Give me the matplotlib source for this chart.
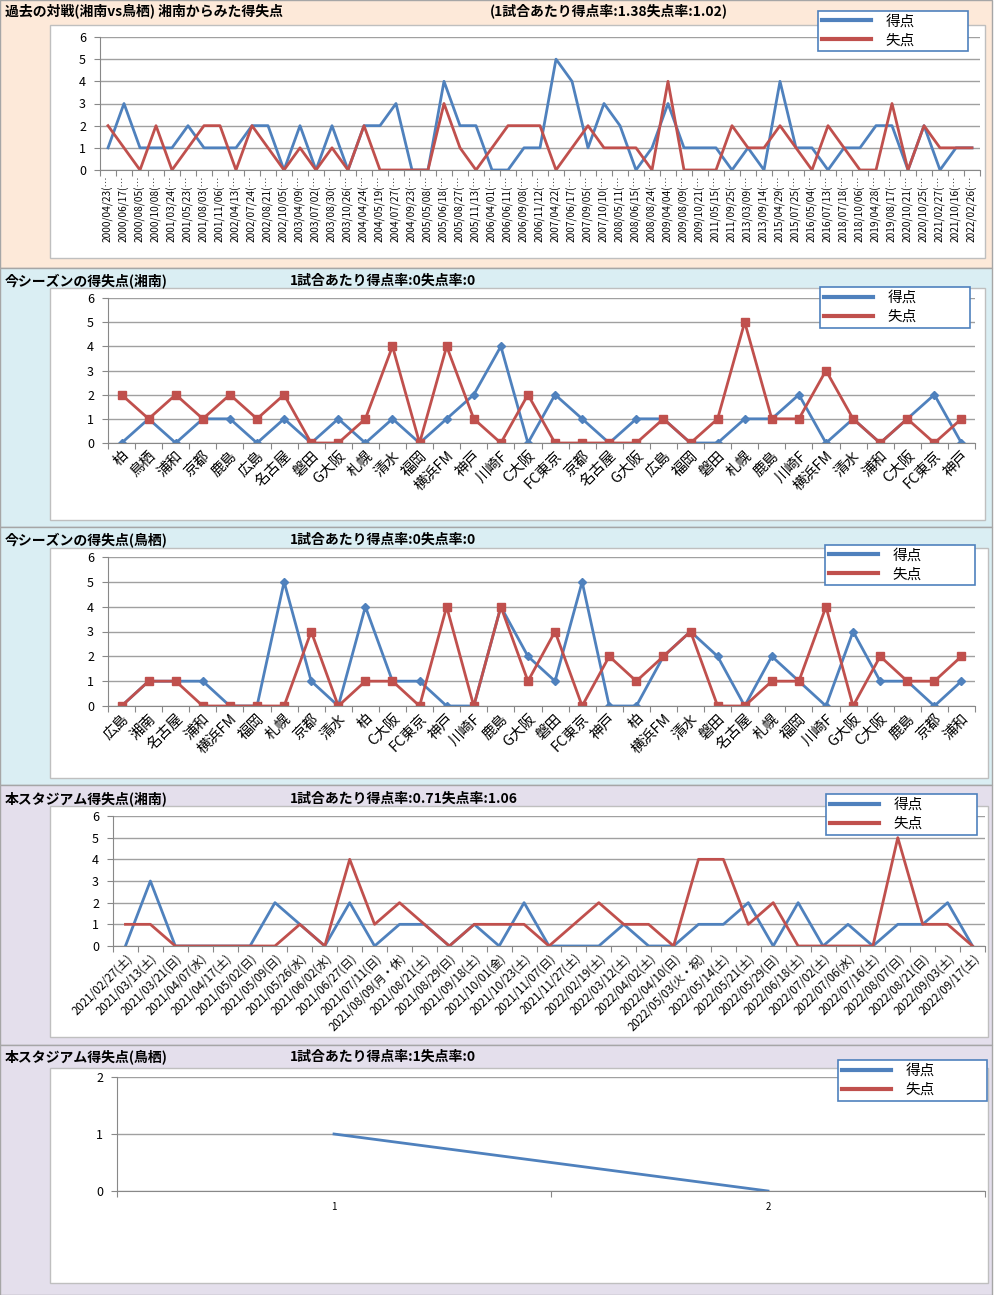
import matplotlib
matplotlib.use("Agg")
import matplotlib.pyplot as plt
from matplotlib.patches import Rectangle
from matplotlib.lines import Line2D

plt.rcParams['font.family'] = ['Noto Sans CJK JP', 'DejaVu Sans']

W, H = 1000, 1295
BLUE = '#4F81BD'
RED = '#C0504D'

# ---------------- data ----------------
h2h_dates = ["2000/04/23", "2000/06/17", "2000/08/05", "2000/10/08", "2001/03/24", "2001/05/23",
             "2001/08/03", "2001/11/06", "2002/04/13", "2002/07/24", "2002/08/21", "2002/10/05",
             "2003/04/09", "2003/07/02", "2003/08/30", "2003/10/26", "2004/04/24", "2004/05/19",
             "2004/07/27", "2004/09/23", "2005/05/08", "2005/06/18", "2005/08/27", "2005/11/13",
             "2006/04/01", "2006/06/11", "2006/09/08", "2006/11/12", "2007/04/22", "2007/06/17",
             "2007/09/05", "2007/10/10", "2008/05/11", "2008/06/15", "2008/08/24", "2009/04/04",
             "2009/08/09", "2009/10/21", "2011/05/15", "2011/09/25", "2013/03/09", "2013/09/14",
             "2015/04/29", "2015/07/25", "2016/05/04", "2016/07/13", "2018/07/18", "2018/10/06",
             "2019/04/28", "2019/08/17", "2020/10/21", "2020/10/25", "2021/02/27", "2021/10/16",
             "2022/02/26"]
h2h_for = [1, 3, 1, 1, 1, 2, 1, 1, 1, 2, 2, 0, 2, 0, 2, 0, 2, 2, 3, 0, 0, 4, 2, 2, 0, 0, 1, 1,
           5, 4, 1, 3, 2, 0, 1, 3, 1, 1, 1, 0, 1, 0, 4, 1, 1, 0, 1, 1, 2, 2, 0, 2, 0, 1, 1]
h2h_against = [2, 1, 0, 2, 0, 1, 2, 2, 0, 2, 1, 0, 1, 0, 1, 0, 2, 0, 0, 0, 0, 3, 1, 0, 1, 2, 2, 2,
               0, 1, 2, 1, 1, 1, 0, 4, 0, 0, 0, 2, 1, 1, 2, 1, 0, 2, 1, 0, 0, 3, 0, 2, 1, 1, 1]

shonan_opp = ["柏", "鳥栖", "浦和", "京都", "鹿島", "広島", "名古屋", "磐田", "G大阪", "札幌", "清水",
              "福岡", "横浜FM", "神戸", "川崎F", "C大阪", "FC東京", "京都", "名古屋", "G大阪", "広島",
              "福岡", "磐田", "札幌", "鹿島", "川崎F", "横浜FM", "清水", "浦和", "C大阪", "FC東京", "神戸"]
shonan_for = [0, 1, 0, 1, 1, 0, 1, 0, 1, 0, 1, 0, 1, 2, 4, 0, 2, 1, 0, 1, 1, 0, 0, 1, 1, 2, 0, 1,
              0, 1, 2, 0]
shonan_against = [2, 1, 2, 1, 2, 1, 2, 0, 0, 1, 4, 0, 4, 1, 0, 2, 0, 0, 0, 0, 1, 0, 1, 5, 1, 1, 3,
                  1, 0, 1, 0, 1]

tosu_opp = ["広島", "湘南", "名古屋", "浦和", "横浜FM", "福岡", "札幌", "京都", "清水", "柏", "C大阪",
            "FC東京", "神戸", "川崎F", "鹿島", "G大阪", "磐田", "FC東京", "神戸", "柏", "横浜FM", "清水",
            "磐田", "名古屋", "札幌", "福岡", "川崎F", "G大阪", "C大阪", "鹿島", "京都", "浦和"]
tosu_for = [0, 1, 1, 1, 0, 0, 5, 1, 0, 4, 1, 1, 0, 0, 4, 2, 1, 5, 0, 0, 2, 3, 2, 0, 2, 1, 0, 3, 1,
            1, 0, 1]
tosu_against = [0, 1, 1, 0, 0, 0, 0, 3, 0, 1, 1, 0, 4, 0, 4, 1, 3, 0, 2, 1, 2, 3, 0, 0, 1, 1, 4, 0,
                2, 1, 1, 2]

stadium_dates = ["2021/02/27(土)", "2021/03/13(土)", "2021/03/21(日)", "2021/04/07(水)", "2021/04/17(土)",
                 "2021/05/02(日)", "2021/05/09(日)", "2021/05/26(水)", "2021/06/02(水)", "2021/06/27(日)",
                 "2021/07/11(日)", "2021/08/09(月・休)", "2021/08/21(土)", "2021/08/29(日)", "2021/09/18(土)",
                 "2021/10/01(金)", "2021/10/23(土)", "2021/11/07(日)", "2021/11/27(土)", "2022/02/19(土)",
                 "2022/03/12(土)", "2022/04/02(土)", "2022/04/10(日)", "2022/05/03(火・祝)", "2022/05/14(土)",
                 "2022/05/21(土)", "2022/05/29(日)", "2022/06/18(土)", "2022/07/02(土)", "2022/07/06(水)",
                 "2022/07/16(土)", "2022/08/07(日)", "2022/08/21(日)", "2022/09/03(土)", "2022/09/17(土)"]
stadium_for = [0, 3, 0, 0, 0, 0, 2, 1, 0, 2, 0, 1, 1, 0, 1, 0, 2, 0, 0, 0, 1, 0, 0, 1, 1, 2, 0, 2,
               0, 1, 0, 1, 1, 2, 0]
stadium_against = [1, 1, 0, 0, 0, 0, 0, 1, 0, 4, 1, 2, 1, 0, 1, 1, 1, 0, 1, 2, 1, 1, 0, 4, 4, 1, 2,
                   0, 0, 0, 0, 5, 1, 1, 0]

tosu_stadium_labels = ["1", "2"]
tosu_stadium_for = [1, 0]

titles = [("過去の対戦(湘南vs鳥栖) 湘南からみた得失点", "(1試合あたり得点率:1.38失点率:1.02)"),
          ("今シーズンの得失点(湘南)", "1試合あたり得点率:0失点率:0"),
          ("今シーズンの得失点(鳥栖)", "1試合あたり得点率:0失点率:0"),
          ("本スタジアム得失点(湘南)", "1試合あたり得点率:0.71失点率:1.06"),
          ("本スタジアム得失点(鳥栖)", "1試合あたり得点率:1失点率:0")]
legend_labels = ["得点", "失点"]

# ---------------- layout helpers ----------------
fig = plt.figure(figsize=(W / 100, H / 100), dpi=100)


def fx(x):
    return x / W


def fy(y):
    return 1 - y / H


def rect(x0, y0, x1, y1, fc, ec='#A6A6A6', lw=1.0, z=-10):
    fig.patches.append(Rectangle((fx(x0), fy(y1)), fx(x1) - fx(x0), fy(y0) - fy(y1),
                                 transform=fig.transFigure, facecolor=fc, edgecolor=ec,
                                 linewidth=lw, zorder=z))


def add_ax(x0, y0, x1, y1):
    ax = fig.add_axes([fx(x0), fy(y1), fx(x1) - fx(x0), fy(y0) - fy(y1)])
    ax.set_facecolor('none')
    return ax


def style_axis(ax, n, ymax, xlabels, rot, fs, ha='right'):
    ax.set_xlim(-0.5, n - 0.5)
    ax.set_ylim(0, ymax)
    ax.set_yticks(range(0, ymax + 1))
    ax.tick_params(axis='y', length=4, color='#888888', labelsize=9, pad=6)
    ax.yaxis.grid(True, color='#A0A0A0', linewidth=1.0)
    ax.set_axisbelow(True)
    for s in ['top', 'right']:
        ax.spines[s].set_visible(False)
    for s in ['left', 'bottom']:
        ax.spines[s].set_color('#888888')
    ax.set_xticks([i - 0.5 for i in range(n + 1)], minor=False)
    ax.set_xticklabels([])
    ax.tick_params(axis='x', which='major', length=4, color='#888888')
    ax.set_xticks(range(n), minor=True)
    ax.set_xticklabels(xlabels, minor=True, rotation=rot, fontsize=fs, ha=ha,
                       rotation_mode='anchor' if rot not in (0, 90) else 'default')
    ax.tick_params(axis='x', which='minor', length=0, pad=4)


def add_legend(ax, x0, y0, x1, y1, fs=10.5):
    handles = [Line2D([], [], color=BLUE, lw=3), Line2D([], [], color=RED, lw=3)]
    leg = ax.legend(handles, legend_labels, loc='center', mode='expand',
                    bbox_to_anchor=(fx(x0), fy(y1), fx(x1) - fx(x0), fy(y0) - fy(y1)),
                    bbox_transform=fig.transFigure, fontsize=fs, frameon=True, fancybox=False,
                    handlelength=3.4, handletextpad=1.0, labelspacing=0.35, borderpad=0.25,
                    borderaxespad=0, framealpha=1)
    leg.get_frame().set_edgecolor('#4F81BD')
    leg.get_frame().set_linewidth(1.2)
    return leg


# ---------------- backgrounds ----------------
rect(0, 0, 992, 268, '#FDE9D9')
rect(0, 268, 992, 527, '#DAEEF3')
rect(0, 527, 992, 785, '#DAEEF3')
rect(0, 785, 992, 1045, '#E4DFEC')
rect(0, 1045, 992, 1295, '#E4DFEC')
for (x0, y0, x1, y1) in [(50, 25, 985, 258), (50, 288, 985, 520), (50, 548, 988, 778),
                         (50, 806, 988, 1037), (50, 1068, 988, 1283)]:
    rect(x0, y0, x1, y1, 'white', ec='#BFBFBF', z=-9)

# titles
title_pos = [(11, 490), (281, 290), (540, 290), (799, 290), (1057, 290)]
for (t1, t2), (y, x2) in zip(titles, title_pos):
    fig.text(fx(5), fy(y), t1, fontsize=10, fontweight='bold', va='center', ha='left')
    fig.text(fx(x2), fy(y), t2, fontsize=10, fontweight='bold', va='center', ha='left')

# ---------------- panel 1 ----------------
ax1 = add_ax(100, 37, 980, 170)
x = range(len(h2h_dates))
ax1.plot(x, h2h_for, color=BLUE, lw=2)
ax1.plot(x, h2h_against, color=RED, lw=2)
style_axis(ax1, len(h2h_dates), 6, [d + "(…" for d in h2h_dates], 90, 7.3, ha='center')
add_legend(ax1, 818, 6, 968, 56)

# ---------------- panel 2 ----------------
ax2 = add_ax(108, 298, 975, 443)
x = range(len(shonan_opp))
ax2.plot(x, shonan_for, color=BLUE, lw=2, marker='D', ms=4)
ax2.plot(x, shonan_against, color=RED, lw=2, marker='s', ms=6)
style_axis(ax2, len(shonan_opp), 6, shonan_opp, 45, 10.5)
add_legend(ax2, 820, 283, 970, 332)

# ---------------- panel 3 ----------------
ax3 = add_ax(108, 557, 975, 706)
x = range(len(tosu_opp))
ax3.plot(x, tosu_for, color=BLUE, lw=2, marker='D', ms=4)
ax3.plot(x, tosu_against, color=RED, lw=2, marker='s', ms=6)
style_axis(ax3, len(tosu_opp), 6, tosu_opp, 45, 10.5)
add_legend(ax3, 825, 540, 975, 590)

# ---------------- panel 4 ----------------
ax4 = add_ax(113, 816, 985, 946)
x = range(len(stadium_dates))
ax4.plot(x, stadium_for, color=BLUE, lw=2)
ax4.plot(x, stadium_against, color=RED, lw=2)
style_axis(ax4, len(stadium_dates), 6, stadium_dates, 45, 8.3)
add_legend(ax4, 826, 789, 977, 840)

# ---------------- panel 5 ----------------
ax5 = add_ax(117, 1077, 985, 1191)
x = range(len(tosu_stadium_labels))
ax5.plot(x, tosu_stadium_for, color=BLUE, lw=2)
style_axis(ax5, len(tosu_stadium_labels), 2, tosu_stadium_labels, 0, 7, ha='center')
ax5.tick_params(axis='x', which='minor', pad=8)
add_legend(ax5, 838, 1056, 987, 1105)

fig.savefig("out.png", dpi=100)
